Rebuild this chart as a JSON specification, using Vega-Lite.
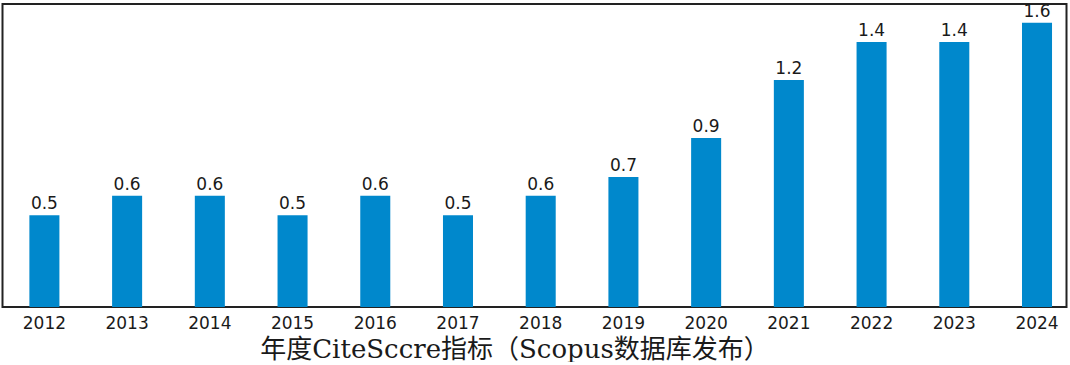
{
  "$schema": "https://vega.github.io/schema/vega-lite/v6.json",
  "width": 1064,
  "height": 303,
  "padding": {"left": 2.5, "top": 2, "right": 3, "bottom": 0},
  "background": "white",
  "config": {
    "view": {"stroke": "#222222", "strokeWidth": 2},
    "font": "DejaVu Sans"
  },
  "data": {
    "values": [
      {"year": "2012", "label": "0.5", "bar": 0.49},
      {"year": "2013", "label": "0.6", "bar": 0.595},
      {"year": "2014", "label": "0.6", "bar": 0.595},
      {"year": "2015", "label": "0.5", "bar": 0.49},
      {"year": "2016", "label": "0.6", "bar": 0.595},
      {"year": "2017", "label": "0.5", "bar": 0.49},
      {"year": "2018", "label": "0.6", "bar": 0.595},
      {"year": "2019", "label": "0.7", "bar": 0.695},
      {"year": "2020", "label": "0.9", "bar": 0.904},
      {"year": "2021", "label": "1.2", "bar": 1.214},
      {"year": "2022", "label": "1.4", "bar": 1.417},
      {"year": "2023", "label": "1.4", "bar": 1.417},
      {"year": "2024", "label": "1.6", "bar": 1.52}
    ]
  },
  "encoding": {
    "x": {
      "field": "year",
      "type": "ordinal",
      "scale": {"paddingInner": 0.637, "paddingOuter": 0.25, "align": 0.65},
      "axis": {
        "title": "年度CiteSccre指标（Scopus数据库发布）",
        "titleFont": "DejaVu Serif, Noto Sans CJK SC",
        "titleFontSize": 26,
        "titleFontWeight": "normal",
        "titleColor": "#1a1a1a",
        "titlePadding": 5,
        "titleX": 512,
        "labelAngle": 0,
        "labelFontSize": 17,
        "labelFont": "DejaVu Sans",
        "labelColor": "#1a1a1a",
        "labelPadding": 8,
        "ticks": false,
        "domain": false,
        "grid": false
      }
    },
    "y": {
      "field": "bar",
      "type": "quantitative",
      "scale": {"domain": [0, 1.62], "nice": false},
      "axis": null
    }
  },
  "layer": [
    {"mark": {"type": "bar", "color": "#0088cc"}},
    {
      "mark": {"type": "text", "dy": -11, "fontSize": 17, "font": "DejaVu Sans", "color": "#1a1a1a"},
      "encoding": {"text": {"field": "label"}}
    }
  ]
}
